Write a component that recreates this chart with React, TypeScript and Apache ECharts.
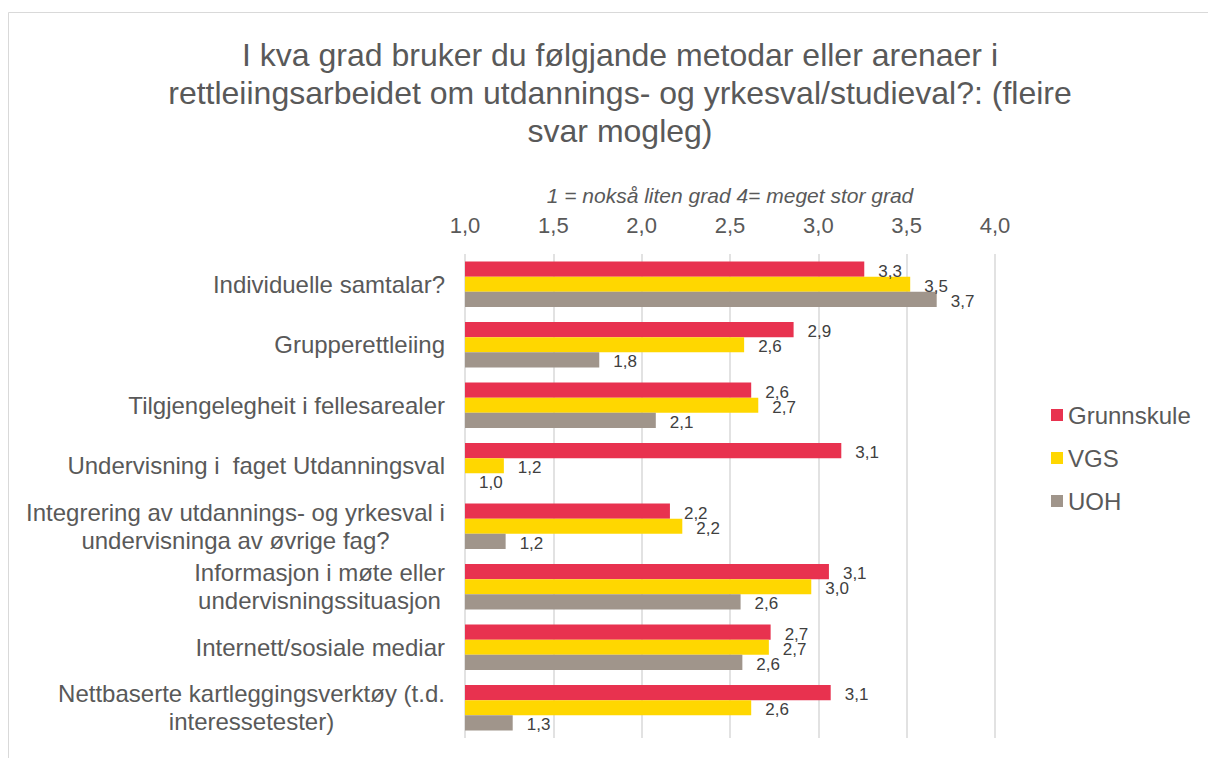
import React, { useEffect, useRef } from "react";
import * as echarts from "echarts";

const categories = [
  "Individuelle samtalar?",
  "Grupperettleiing",
  "Tilgjengelegheit i fellesarealer",
  "Undervisning i  faget Utdanningsval",
  "Integrering av utdannings- og yrkesval i\nundervisninga av øvrige fag?",
  "Informasjon i møte eller\nundervisningssituasjon",
  "Internett/sosiale mediar",
  "Nettbaserte kartleggingsverktøy (t.d.\ninteressetester)",
];
const grunnskule = [3.26, 2.86, 2.62, 3.13, 2.16, 3.06, 2.73, 3.07];
const vgs = [3.52, 2.58, 2.66, 1.22, 2.23, 2.96, 2.72, 2.62];
const uoh = [3.67, 1.76, 2.08, 1.0, 1.23, 2.56, 2.57, 1.27];
const seriesNames = ["Grunnskule", "VGS", "UOH"];
const colors = ["#E8324F", "#FFD700", "#A0958B"];
const xTicks = { min: 1, max: 4, interval: 0.5 };

const FONT = '"Liberation Sans", Arial, sans-serif';

function measure(text: string, size: number) {
  const c = document.createElement("canvas").getContext("2d");
  if (!c) return text.length * size * 0.5;
  c.font = `${size}px "Liberation Sans", Arial, sans-serif`;
  return c.measureText(text).width;
}

export default function App() {
  const ref = useRef<HTMLDivElement>(null);
  useEffect(() => {
    if (!ref.current) return;
    const chart = echarts.init(ref.current, null, { renderer: "svg" });
    const fmt = (v: number) => (Math.round(v * 10) / 10).toFixed(1).replace(".", ",");
    const labelFont = 24;
    const label = {
      show: true,
      position: "right" as const,
      distance: 14,
      offset: [0, 2],
      color: "#404040",
      fontSize: 17,
      fontFamily: FONT,
      formatter: (p: any) => fmt(p.value),
    };
    const data = [grunnskule, vgs, uoh];
    const multi = categories.filter((c) => c.includes("\n"));
    const widthOf = (c: string) =>
      Math.ceil(Math.max(...c.split("\n").map((l) => measure(l, labelFont))));
    const rich: any = {};
    multi.forEach((c) => {
      rich["w" + widthOf(c)] = {
        width: widthOf(c),
        align: "center",
        fontSize: labelFont,
        color: "#595959",
        fontFamily: FONT,
        lineHeight: 28,
      };
    });
    chart.setOption({
      animation: false,
      backgroundColor: "#ffffff",
      textStyle: { fontFamily: FONT },
      title: {
        text:
          "I kva grad bruker du følgjande metodar eller arenaer i\nrettleiingsarbeidet om utdannings- og yrkesval/studieval?: (fleire\nsvar mogleg)",
        left: 615,
        top: 31,
        textAlign: "center",
        textStyle: {
          fontSize: 32,
          fontWeight: "normal",
          color: "#595959",
          lineHeight: 38,
          fontFamily: FONT,
        },
      },
      graphic: [
        {
          type: "rect",
          shape: { x: 8.5, y: 12.5, width: 1400, height: 1000 },
          style: { fill: "none", stroke: "#D9D9D9", lineWidth: 1 },
          silent: true,
        },
      ],
      legend: {
        orient: "vertical",
        left: 1046,
        top: 398,
        itemWidth: 12,
        itemHeight: 12,
        itemGap: 19,
        icon: "rect",
        textStyle: { fontSize: 24, color: "#595959", fontFamily: FONT },
        data: seriesNames,
      },
      grid: { left: 465, right: 213, top: 254, bottom: 20, containLabel: false },
      xAxis: {
        type: "value",
        position: "top",
        min: xTicks.min,
        max: xTicks.max,
        interval: xTicks.interval,
        name: "1 = nokså liten grad 4= meget stor grad",
        nameLocation: "middle",
        nameGap: 48,
        nameTextStyle: {
          fontSize: 21,
          fontStyle: "italic",
          color: "#595959",
          fontFamily: FONT,
        },
        axisLine: { show: false },
        axisTick: { show: false },
        axisLabel: {
          fontSize: 22,
          color: "#595959",
          margin: 18,
          fontFamily: FONT,
          formatter: (v: number) => fmt(v),
        },
        splitLine: { show: true, lineStyle: { color: "#D9D9D9", width: 1.5 } },
      },
      yAxis: {
        type: "category",
        inverse: true,
        data: categories,
        axisLine: { show: false },
        axisTick: { show: false },
        axisLabel: {
          margin: 20,
          color: "#595959",
          fontSize: labelFont,
          fontFamily: FONT,
          lineHeight: 28,
          formatter: (v: string) => {
            const lines = v.split("\n");
            if (lines.length === 1) return v;
            const key = "w" + widthOf(v);
            return lines.map((l) => `{${key}|${l}}`).join("\n");
          },
          rich,
        },
      },
      series: seriesNames.map((n, i) => ({
        name: n,
        type: "bar",
        data: data[i],
        itemStyle: { color: colors[i] },
        barGap: "0%",
        barCategoryGap: "25%",
        label,
      })),
    });
    return () => chart.dispose();
  }, []);
  return (
    <div
      ref={ref}
      style={{ position: "absolute", left: 0, top: 0, width: 1208, height: 758 }}
    />
  );
}
